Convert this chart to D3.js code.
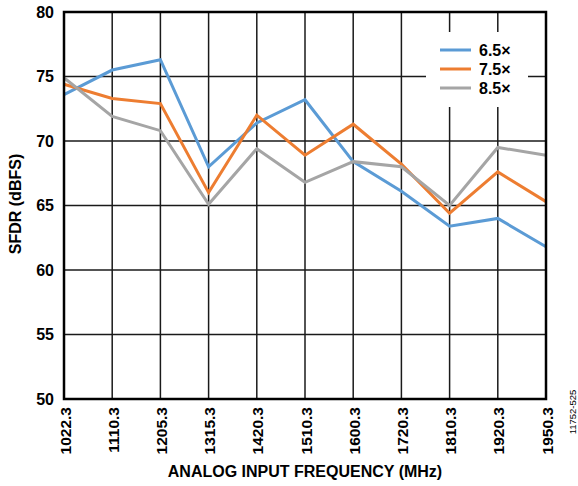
<!DOCTYPE html>
<html>
<head>
<meta charset="utf-8">
<script src="https://cdn.jsdelivr.net/npm/d3@7/dist/d3.min.js"></script>
<style>
  html, body { margin: 0; padding: 0; background: #fff; }
  svg { display: block; font-family: "Liberation Sans", Arial, sans-serif; }
</style>
</head>
<body>
<svg id="chart" width="578" height="486"></svg>
<script>
// Input frequencies (MHz)
const frequencies = ["1022.3", "1110.3", "1205.3", "1315.3", "1420.3", "1510.3",
                     "1600.3", "1720.3", "1810.3", "1920.3", "1950.3"];
// SFDR (dBFS) per interpolation ratio
const sfdr65 = [73.6, 75.5, 76.3, 68.0, 71.4, 73.2, 68.4, 66.1, 63.4, 64.0, 61.8];
const sfdr75 = [74.4, 73.3, 72.9, 66.0, 72.0, 68.9, 71.3, 68.2, 64.4, 67.6, 65.3];
const sfdr85 = [74.9, 71.9, 70.8, 65.1, 69.4, 66.8, 68.4, 68.0, 65.0, 69.5, 68.9];
const seriesNames = ["6.5×", "7.5×", "8.5×"];
const seriesColors = ["#5B9BD5", "#ED7D31", "#A5A5A5"];
const yTicks = [50, 55, 60, 65, 70, 75, 80];

const series = [sfdr65, sfdr75, sfdr85].map((v, i) => ({ name: seriesNames[i], color: seriesColors[i], values: v }));

const svg = d3.select("#chart");
const m = { left: 64, right: 546, top: 12, bottom: 399 };
const FONT = "Liberation Sans, Arial, sans-serif";

const x = d3.scalePoint().domain(frequencies).range([m.left, m.right]).padding(0);
const y = d3.scaleLinear().domain([50, 80]).range([m.bottom, m.top]);

// Grid
const grid = svg.append("g");
grid.selectAll("line.h").data(yTicks).join("line")
  .attr("x1", m.left).attr("x2", m.right)
  .attr("y1", d => y(d)).attr("y2", d => y(d))
  .attr("stroke", "#1a1a1a").attr("stroke-width", 1.5);
grid.selectAll("line.v").data(frequencies).join("line")
  .attr("x1", d => x(d)).attr("x2", d => x(d))
  .attr("y1", m.top).attr("y2", m.bottom)
  .attr("stroke", "#1a1a1a").attr("stroke-width", 1.5);

// Legend box (covers the grid behind it)
const legend = svg.append("g");
legend.append("rect")
  .attr("x", 426).attr("y", 32).attr("width", 102).attr("height", 75)
  .attr("fill", "#fff");

// Series lines
const line = d3.line().x((d, i) => x(frequencies[i])).y(d => y(d));
svg.append("g").selectAll("path").data(series).join("path")
  .attr("d", d => line(d.values))
  .attr("fill", "none")
  .attr("stroke", d => d.color)
  .attr("stroke-width", 3)
  .attr("stroke-linejoin", "miter");

// Plot frame
svg.append("rect")
  .attr("x", m.left).attr("y", m.top)
  .attr("width", m.right - m.left).attr("height", m.bottom - m.top)
  .attr("fill", "none").attr("stroke", "#000").attr("stroke-width", 2.5);

// Legend entries
const items = legend.selectAll("g.item").data(series).join("g")
  .attr("transform", (d, i) => `translate(0, ${50 + i * 19})`);
items.append("line")
  .attr("x1", 440).attr("x2", 471).attr("y1", 0).attr("y2", 0)
  .attr("stroke", d => d.color).attr("stroke-width", 3);
items.append("text")
  .attr("x", 479).attr("y", 6)
  .attr("font-size", 16).attr("font-weight", "bold")
  .text(d => d.name);

// Y axis
const yAxis = d3.axisLeft(y).tickValues(yTicks).tickSize(0).tickPadding(10);
const yg = svg.append("g").attr("transform", `translate(${m.left},0)`).call(yAxis);
yg.select(".domain").remove();
yg.selectAll("text").attr("font-size", 16).attr("font-weight", "bold")
  .attr("font-family", FONT).attr("fill", "#000");

// X axis with vertical labels
const xAxis = d3.axisBottom(x).tickSize(0).tickPadding(0);
const xg = svg.append("g").attr("transform", `translate(0,${m.bottom})`).call(xAxis);
xg.select(".domain").remove();
xg.selectAll("text")
  .attr("font-size", 15.5).attr("font-weight", "bold")
  .attr("font-family", FONT).attr("fill", "#000")
  .attr("text-anchor", "end")
  .attr("dy", null)
  .attr("transform", "translate(6,8) rotate(-90)")
  .attr("x", 0).attr("y", 0);

// Axis titles
svg.append("text")
  .attr("x", (m.left + m.right) / 2).attr("y", 477)
  .attr("text-anchor", "middle").attr("font-size", 16).attr("font-weight", "bold")
  .text("ANALOG INPUT FREQUENCY (MHz)");
svg.append("text")
  .attr("transform", `translate(21, 204) rotate(-90)`)
  .attr("text-anchor", "middle").attr("font-size", 16).attr("font-weight", "bold")
  .text("SFDR (dBFS)");

// Figure id
svg.append("text")
  .attr("transform", "translate(576, 412) rotate(-90)")
  .attr("text-anchor", "middle").attr("font-size", 9.5)
  .text("11752-525");
</script>
</body>
</html>
